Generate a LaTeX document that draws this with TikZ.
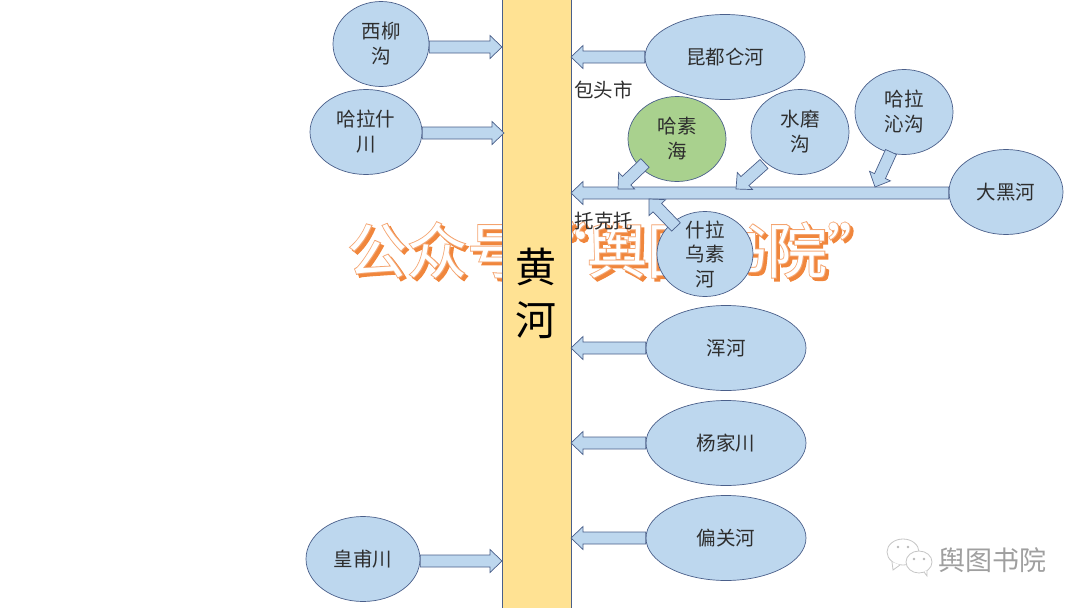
\documentclass[tikz,border=0pt]{standalone}
\usepackage{fontspec}
\setmainfont{Noto Sans CJK SC}
\newfontfamily\markrim{Noto Sans CJK SC}[FakeBold=3]
\usetikzlibrary{calc,shapes.geometric}
\definecolor{riverblue}{HTML}{BDD7EE}
\definecolor{edgeblue}{HTML}{4A5F8A}
\definecolor{lakegreen}{HTML}{A9D18E}
\definecolor{baryellow}{HTML}{FFE293}
\definecolor{markorange}{HTML}{F0863C}
\definecolor{rimorange}{HTML}{F4A36E}
\definecolor{inkgray}{HTML}{2E2E2E}
\newcommand{\marktext}{公众号“舆图书院”}
\tikzset{
  river/.style={ellipse,draw=edgeblue,fill=riverblue,line width=.7pt,inner sep=0pt,
    minimum width=#1,minimum height=85pt,align=center,text=inkgray,
    font=\fontsize{19.5}{25}\selectfont},
  riverarrow/.style={draw=edgeblue,fill=riverblue,line width=.7pt,to path={
    -- ($(\tikztostart)!6pt!90:(\tikztotarget)$)
    -- ($($(\tikztotarget)!12pt!(\tikztostart)$)!6pt!90:(\tikztotarget)$)
    -- ($($(\tikztotarget)!12pt!(\tikztostart)$)!11.5pt!90:(\tikztotarget)$)
    -- (\tikztotarget)
    -- ($($(\tikztotarget)!12pt!(\tikztostart)$)!11.5pt!-90:(\tikztotarget)$)
    -- ($($(\tikztotarget)!12pt!(\tikztostart)$)!6pt!-90:(\tikztotarget)$)
    -- ($(\tikztostart)!6pt!-90:(\tikztotarget)$)
    -- cycle}},
  place/.style={text=inkgray,font=\fontsize{19.5}{22}\selectfont,inner sep=0pt},
  markfont/.style={font=\fontsize{60}{62}\selectfont,inner sep=0pt,anchor=west},
}
\begin{document}
\begin{tikzpicture}[x=1pt,y=-1pt]
  \useasboundingbox (0,0) rectangle (1080,608);
  \node[markfont,text=markorange] (markshade) at (350,253) {\markrim\marktext};
  \node[markfont,text=rimorange] (markline) at (347,250) {\markrim\marktext};
  \node[markfont,text=white] (mark) at (347,250) {\marktext};

  \node[draw=edgeblue,fill=baryellow,line width=.7pt,minimum width=69.5pt,minimum height=610pt,
    inner sep=0pt] (huanghe) at (537,304) {};
  \node[font=\fontsize{41}{53}\selectfont,align=center,inner sep=0pt] (hhname) at (536,293) {黄\\河};

  \node[river=96pt] (xiliu) at (381,44) {西柳\\沟};
  \node[river=112pt] (halashi) at (366,132) {哈拉什\\川};
  \node[river=114pt] (huangfu) at (363,559) {皇甫川};
  \node[river=160pt] (kundulun) at (725,57) {昆都仑河};
  \node[river=98pt,fill=lakegreen] (hasu) at (677,139) {哈素\\海};
  \node[river=98pt] (shuimo) at (800,132) {水磨\\沟};
  \node[river=98pt] (halaqin) at (904,112) {哈拉\\沁沟};
  \node[river=114pt] (dahei) at (1006,192) {大黑河};
  \node[river=160pt] (hun) at (726,348) {浑河};
  \node[river=160pt] (yangjia) at (726,443) {杨家川};
  \node[river=160pt] (pianguan) at (726,538) {偏关河};

  \coordinate (xiliuend) at (502,47);
  \coordinate (halashiend) at (504,133);
  \coordinate (huangfuend) at (502,561);
  \coordinate (kundulunend) at (571,57);
  \coordinate (daheiend) at (571,193);
  \coordinate (hunend) at (571,348);
  \coordinate (yangjiaend) at (571,443);
  \coordinate (pianguanend) at (571,538);
  \coordinate (hasustart) at (645,163);
  \coordinate (hasuend) at (618,189);
  \coordinate (shuimostart) at (764,164);
  \coordinate (shuimoend) at (736,189);
  \coordinate (halaqinstart) at (891,152);
  \coordinate (halaqinend) at (875,187);
  \coordinate (shilastart) at (676,227);
  \coordinate (shilaend) at (649,199);

  \draw[riverarrow] (xiliu.east |- xiliuend) to (xiliuend);
  \draw[riverarrow] (halashi.east |- halashiend) to (halashiend);
  \draw[riverarrow] (huangfu.east |- huangfuend) to (huangfuend);
  \draw[riverarrow] (kundulun.west) to (kundulunend);
  \draw[riverarrow] (dahei.west |- daheiend) to (daheiend);
  \draw[riverarrow] (hun.west) to (hunend);
  \draw[riverarrow] (yangjia.west) to (yangjiaend);
  \draw[riverarrow] (pianguan.west) to (pianguanend);
  \draw[riverarrow] (hasustart) to (hasuend);
  \draw[riverarrow] (shuimostart) to (shuimoend);
  \draw[riverarrow] (halaqinstart) to (halaqinend);

  \node[river=96pt] (shila) at (705,254) {};
  \draw[riverarrow] (shilastart) to (shilaend);
  \node[place,align=center,font=\fontsize{19.5}{24.5}\selectfont] (shilaname) at (shila) {什拉\\乌素\\河};

  \node[place] (baotou) at (603.5,90) {包头市};
  \node[place] (tuoketuo) at (604,221) {托克托};

  \draw[gray!45,fill=white,line width=.8pt] (903,552) ellipse (16 and 13);
  \draw[gray!45,fill=white,line width=.8pt] (892,562) -- (893,570) -- (900,565);
  \draw[gray!45,fill=white,line width=.8pt] (919,562) ellipse (13 and 11);
  \draw[gray!45,fill=white,line width=.8pt] (924,572) -- (927,576) -- (927,570);
  \fill[gray!55] (898,547) circle (1.3) (908,547) circle (1.3) (914,559) circle (1.3) (924,559) circle (1.3);
  \node[text=gray!75,font=\fontsize{27}{30}\selectfont,inner sep=0pt] (account) at (992,560) {舆图书院};
\end{tikzpicture}
\end{document}
